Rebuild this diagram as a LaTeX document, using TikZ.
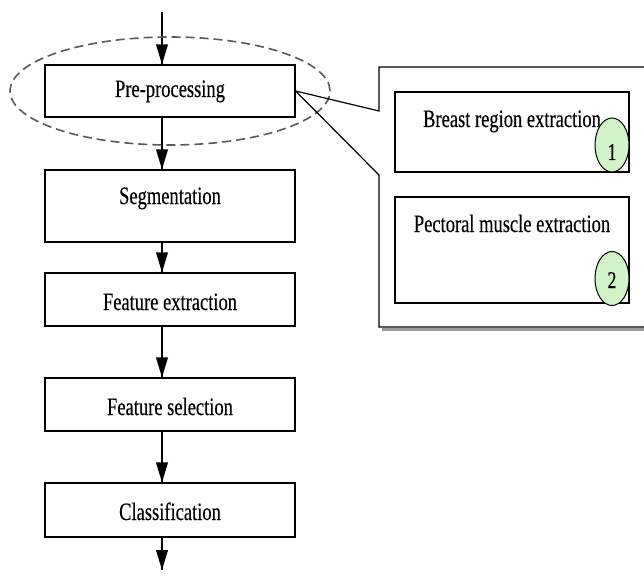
\documentclass[tikz,border=0pt]{standalone}
\usepackage{fontspec}
\setmainfont[FakeStretch=0.74, FakeBold=0.3]{Liberation Serif}
\usepackage{tikz}
\usetikzlibrary{arrows}
\usetikzlibrary{decorations.markings}
\usetikzlibrary{shapes.geometric}
\definecolor{numgreen}{RGB}{208,244,200}
\tikzset{flow/.style = {line width = 1.2pt, decoration={markings,
                                  mark=at position 1 with {\arrow[xscale=2.1, yscale=1.5]{triangle 45}}},
                        postaction={decorate}}}
\tikzset{stage/.style = {draw, line width = 1.2pt, inner sep = 0, minimum width = 250pt,
                         text height = 17pt, text depth = 5pt, font = \fontsize{25}{28}\selectfont}}
\tikzset{num/.style = {draw, ellipse, fill = numgreen, line width = 1pt, inner sep = 0,
                       minimum width = 34pt, minimum height = 54pt, font = \fontsize{24}{26}\selectfont}}

\begin{document}
\begin{tikzpicture}[x = 1pt, y = -1pt]
    \useasboundingbox (0, 0) rectangle (644, 580);

    \node [stage, minimum height = 52pt] (pre) at (170, 91) {Pre-processing};
    \node [stage, minimum height = 72pt, text depth = 21pt] (seg) at (170, 206) {Segmentation};
    \node [stage, minimum height = 53pt, text height = 21pt, text depth = 0pt] (fext) at (170, 299.5) {Feature extraction};
    \node [stage, minimum height = 53pt, text height = 21pt, text depth = 0pt] (fsel) at (170, 404.5) {Feature selection};
    \node [stage, minimum height = 54pt, text height = 20pt, text depth = 0pt] (cls) at (170, 510) {Classification};

    \coordinate (in) at (162, 12);
    \coordinate (out) at (162, 570);

    \draw [flow] (in) -- (in |- pre.north);
    \draw [flow] (in |- pre.south) -- (in |- seg.north);
    \draw [flow] (in |- seg.south) -- (in |- fext.north);
    \draw [flow] (in |- fext.south) -- (in |- fsel.north);
    \draw [flow] (in |- fsel.south) -- (in |- cls.north);
    \draw [flow] (in |- cls.south) -- (out);

    \draw [dash pattern = on 9pt off 5pt, line width = 1.6pt, black!65] (pre.center) ellipse [x radius = 160pt, y radius = 54pt];

    \draw [black!40, line width = 2.5pt] (382, 329.5) -- (650, 329.5);
    \draw [line width = 1.2pt] (379, 111) -- (pre.east) -- (379, 175) -- (379, 327) -- (650, 327) -- (650, 67) -- (379, 67) -- cycle;

    \node [stage, minimum width = 234pt, minimum height = 80pt, text depth = 27pt] (breast) at (512, 132) {Breast region extraction};
    \node [stage, minimum width = 234pt, minimum height = 106pt, text depth = 53pt] (pect) at (512, 250) {Pectoral muscle extraction};

    \node [num, text height = 30pt, text depth = 0pt] (one) at (612, 145) {1};
    \node [num, text height = 19pt, text depth = 0pt] (two) at (612, 278.5) {2};
  \end{tikzpicture}
\end{document}
